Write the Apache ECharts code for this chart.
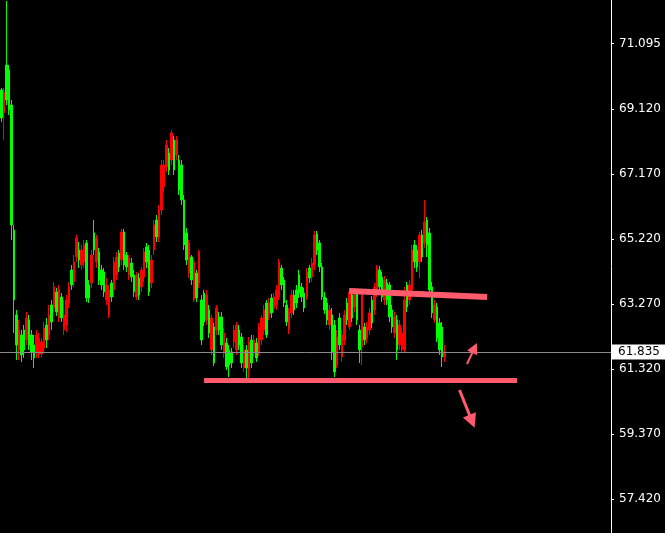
<!DOCTYPE html>
<html>
<head>
<meta charset="utf-8">
<script src="https://cdn.jsdelivr.net/npm/echarts@6/dist/echarts.min.js"></script>
<style>
html,body{margin:0;padding:0;background:#000;}
#chart{width:665px;height:533px;}
</style>
</head>
<body>
<div id="chart"></div>
<script>
// Slot count along the x axis (candles occupy the first part, the rest is empty space)
const slotCount = 244;

const opens = [
69.70,69.01,70.45,70.30,69.25,65.50,62.95,61.90,62.35,62.50,
62.20,62.80,62.35,62.05,61.84,61.75,61.78,61.96,62.65,62.35,
63.25,63.16,63.64,62.86,63.49,62.50,62.65,63.31,64.30,63.94,
64.69,64.90,64.45,64.54,65.11,63.85,63.91,65.41,64.54,64.84,
64.30,64.24,63.40,62.95,63.91,63.70,64.15,64.81,64.60,65.44,
64.75,64.15,64.51,64.15,63.49,64.06,63.79,64.09,64.99,64.90,
63.91,64.90,65.80,65.29,66.10,66.79,67.39,67.81,67.60,68.20,
67.75,67.60,67.45,66.40,65.41,64.21,64.69,63.40,64.21,63.91,
63.40,63.61,62.80,63.10,61.90,62.59,62.50,62.89,62.89,61.81,
62.11,61.90,61.84,62.14,61.90,62.50,62.29,61.36,61.90,61.30,
62.20,61.84,62.11,61.84,62.20,62.50,63.31,62.95,63.46,63.16,
63.25,63.49,64.36,64.00,63.25,62.50,63.01,63.55,63.70,64.15,
63.79,63.61,63.49,64.36,64.09,64.45,65.38,65.11,64.39,63.49,
63.31,62.65,62.95,62.65,61.45,62.86,61.69,62.20,63.31,62.59,
63.55,63.19,63.61,62.50,61.99,62.59,62.26,62.50,63.40,63.10,
63.61,64.30,64.09,63.40,63.91,63.85,63.10,62.41,62.80,62.05,
61.90,61.90,63.85,63.40,63.70,65.05,64.90,64.54,65.35,65.11,
65.80,65.41,63.79,62.80,63.19,62.71,62.59,61.69
];
const closes = [
68.86,69.64,69.40,69.10,65.65,63.40,62.05,62.50,61.75,61.90,
62.86,62.05,61.84,61.66,62.35,62.26,62.14,62.56,62.20,62.95,
62.74,63.79,63.04,63.70,62.86,62.95,63.40,63.79,63.85,64.54,
65.26,64.60,64.90,65.05,63.46,63.46,64.75,64.90,65.26,64.00,
63.85,63.64,63.85,63.70,63.49,64.54,64.69,64.39,65.44,64.45,
64.39,64.66,64.09,63.64,64.15,63.55,64.30,64.84,64.54,63.64,
64.60,65.65,65.29,66.10,67.45,67.45,68.05,67.30,68.41,67.30,
68.20,66.70,66.40,65.05,64.60,65.11,64.00,64.54,63.46,64.84,
62.20,62.74,63.55,62.41,62.86,61.51,63.16,62.50,62.05,62.41,
61.39,61.45,61.51,62.50,62.65,62.05,61.51,61.90,61.36,62.14,
61.51,62.20,61.66,62.59,62.86,63.10,62.35,63.31,63.01,63.49,
63.70,64.54,63.85,63.31,62.74,63.04,63.55,63.10,63.31,63.61,
63.49,63.16,64.24,64.06,64.51,65.35,64.90,64.39,63.49,63.10,
62.80,63.10,61.84,61.24,62.29,62.05,62.35,62.95,62.80,63.64,
62.86,63.61,62.80,61.90,63.61,62.20,62.59,63.01,62.71,63.79,
64.36,63.79,63.49,64.00,63.40,62.89,62.59,62.89,61.90,62.65,
62.41,63.40,63.19,63.85,64.90,64.54,64.39,65.35,64.69,65.74,
65.05,63.70,63.01,63.25,62.26,61.90,61.69,61.835
];
const lows = [
68.74,68.20,69.25,68.95,65.20,62.41,61.60,61.60,61.54,61.66,
62.05,61.90,61.60,61.36,61.66,61.66,61.69,61.84,61.96,62.20,
62.50,63.04,62.92,62.74,62.74,62.35,62.44,63.16,63.70,63.79,
64.54,64.36,64.30,64.36,63.34,63.31,63.76,64.75,64.36,63.85,
63.70,63.49,63.25,62.86,63.34,63.49,64.00,64.24,64.45,64.30,
64.24,64.00,63.94,63.49,63.40,63.40,63.64,63.94,64.36,63.52,
63.76,64.75,65.14,65.14,65.95,66.64,67.24,67.15,67.45,67.15,
67.60,66.55,66.25,64.90,64.45,64.06,63.85,63.34,63.34,63.76,
62.05,62.62,62.65,62.26,61.75,61.42,62.35,62.35,61.90,61.66,
61.30,61.09,61.36,61.96,61.75,61.90,61.36,61.24,61.06,61.06,
61.36,61.69,61.54,61.72,62.05,62.35,62.26,62.80,62.86,63.04,
63.10,63.40,63.70,63.19,62.62,62.38,62.86,62.95,63.16,63.46,
63.34,63.04,63.40,63.91,63.94,64.30,64.75,64.24,63.40,62.98,
62.65,62.50,61.60,61.09,61.36,61.90,61.54,62.05,62.65,62.50,
62.74,63.04,62.65,61.51,61.45,62.05,62.11,62.35,62.56,62.95,
63.49,63.64,63.34,63.25,63.25,62.74,62.41,62.26,61.60,61.90,
61.81,61.81,63.04,63.25,63.55,64.36,64.24,64.06,64.54,64.96,
64.69,63.55,62.86,62.71,62.14,61.75,61.39,61.54
];
const highs = [
69.76,69.76,72.37,70.45,69.40,65.65,63.10,62.80,62.50,62.65,
63.04,62.95,62.50,62.35,62.50,62.41,62.26,62.74,62.86,63.25,
63.40,63.94,63.76,63.85,63.61,63.40,63.55,63.94,64.45,64.75,
65.35,65.14,65.05,65.20,65.20,64.00,64.90,65.80,65.35,64.96,
64.45,64.36,64.06,63.85,64.00,64.69,64.84,64.90,65.53,65.53,
64.84,64.75,64.66,64.30,64.24,64.21,64.39,64.96,65.11,65.05,
64.75,65.80,65.95,66.25,67.60,67.60,68.20,67.96,68.50,68.32,
68.32,67.75,67.60,66.55,65.56,65.20,64.75,64.60,64.30,64.90,
63.55,63.70,63.70,63.25,62.95,62.71,63.25,63.04,63.04,62.56,
62.26,62.05,61.96,62.65,62.74,62.65,62.41,62.05,62.05,62.29,
62.35,62.35,62.26,62.71,62.95,63.25,63.40,63.46,63.58,63.61,
63.85,64.63,64.45,64.09,63.40,63.16,63.70,63.70,63.85,64.30,
63.91,63.76,64.36,64.45,64.66,65.47,65.47,65.20,64.51,63.64,
63.46,63.25,63.16,62.80,62.50,63.01,62.50,63.10,63.46,63.76,
63.70,63.76,63.70,62.65,63.70,62.71,62.74,63.16,63.52,63.91,
64.45,64.42,64.24,64.12,64.03,63.94,63.25,63.04,62.95,62.80,
62.56,63.79,63.94,64.00,65.05,65.20,65.05,65.44,65.50,66.40,
65.89,65.56,63.94,63.40,63.31,62.86,62.74,62.05
];

// Price axis tick values and the current price
const tickValues = [57.42, 59.37, 61.32, 63.27, 65.22, 67.17, 69.12, 71.095];
const lastPrice = 61.835;

// Drawn annotations: [slotIndex, price] pairs
const upperTrend = [[139, 63.67], [194, 63.49]];
const lowerTrend = [[81, 60.98], [206, 60.98]];
const upArrow = [[186, 61.48], [189, 61.96]];
const downArrow = [[183, 60.70], [188, 59.76]];

const categories = [];
for (let i = 0; i < slotCount; i++) categories.push(String(i));
const ohlc = opens.map((o, i) => [o, closes[i], lows[i], highs[i]]);

const pink = '#ff5b6d';
const chart = echarts.init(document.getElementById('chart'), null, {renderer: 'canvas'});
chart.setOption({
  backgroundColor: '#000000',
  animation: false,
  grid: {left: 0, right: 54, top: 0, bottom: 0, containLabel: false},
  xAxis: {
    type: 'category',
    data: categories,
    show: false,
    boundaryGap: true
  },
  yAxis: {
    type: 'value',
    position: 'right',
    min: 56.409,
    max: 72.399,
    scale: true,
    splitLine: {show: false},
    axisLine: {show: true, lineStyle: {color: '#ffffff', width: 1}},
    axisTick: {show: true, length: 3, customValues: tickValues, lineStyle: {color: '#ffffff'}},
    axisLabel: {
      show: true,
      customValues: tickValues,
      margin: 8,
      color: '#ffffff',
      fontFamily: 'DejaVu Sans',
      fontSize: 12,
      formatter: v => v.toFixed(3)
    }
  },
  series: [{
    type: 'candlestick',
    data: ohlc,
    barWidth: 2,
    clip: false,
    itemStyle: {
      color: '#ff0000',
      color0: '#00ff00',
      borderColor: '#ff0000',
      borderColor0: '#00ff00',
      borderWidth: 1
    },
    markLine: {
      silent: true,
      animation: false,
      symbol: ['none', 'none'],
      data: [
        {yAxis: lastPrice, lineStyle: {color: '#8a8a8a', width: 1, type: 'solid'},
         label: {show: true, position: 'end', formatter: lastPrice.toFixed(3), color: '#000', backgroundColor: '#ffffff',
                 fontFamily: 'DejaVu Sans', fontSize: 12, padding: [2, 6, 1, 6], distance: 1}},
        [{coord: upperTrend[0], lineStyle: {color: pink, width: 6, type: 'solid', cap: 'butt'}, label: {show: false}},
         {coord: upperTrend[1]}],
        [{coord: lowerTrend[0], lineStyle: {color: pink, width: 5, type: 'solid', cap: 'butt'}, label: {show: false}},
         {coord: lowerTrend[1]}],
        [{coord: upArrow[0], symbol: 'none', lineStyle: {color: pink, width: 2, type: 'solid'}, label: {show: false}},
         {coord: upArrow[1], symbol: 'triangle', symbolSize: 11}],
        [{coord: downArrow[0], symbol: 'none', lineStyle: {color: pink, width: 3, type: 'solid'}, label: {show: false}},
         {coord: downArrow[1], symbol: 'triangle', symbolSize: 14}]
      ]
    }
  }]
});
</script>
</body>
</html>
